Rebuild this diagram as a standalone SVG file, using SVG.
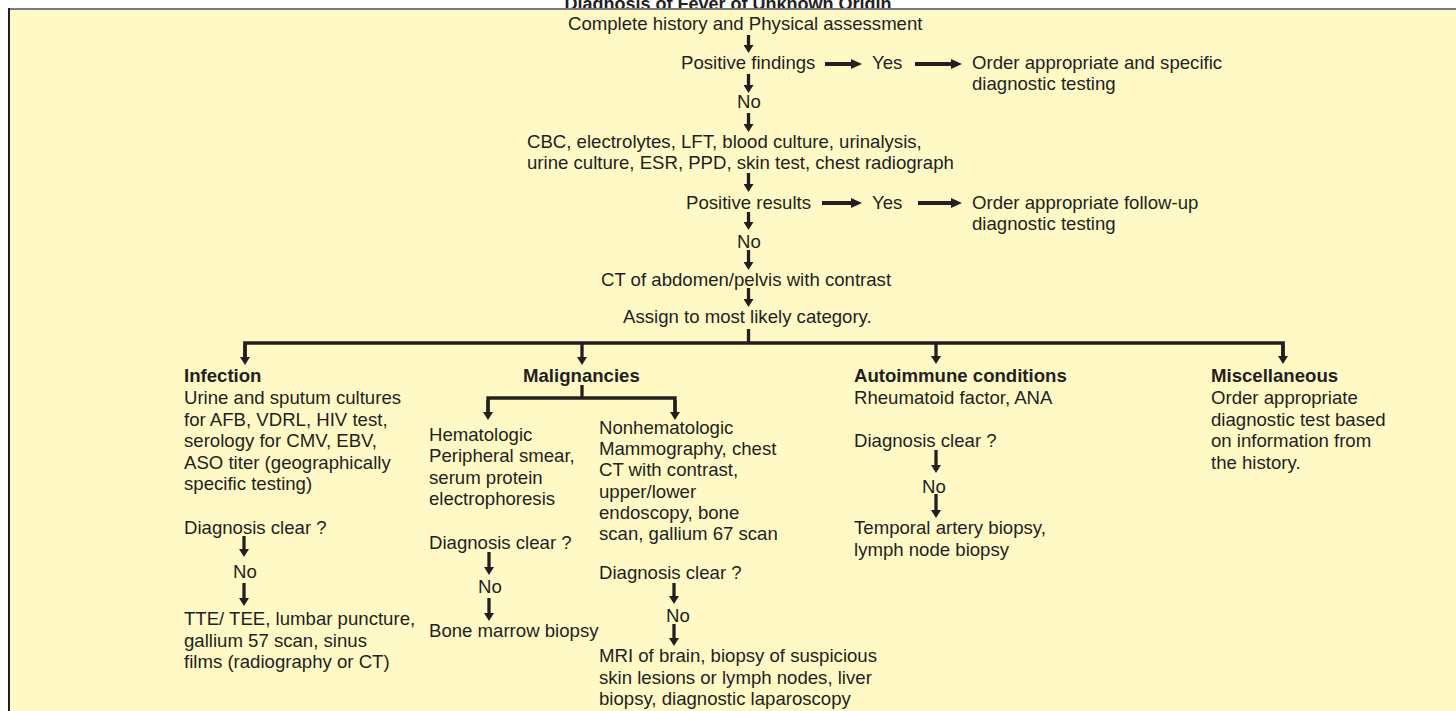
<svg xmlns="http://www.w3.org/2000/svg" width="1456" height="711" viewBox="0 0 1456 711">
<defs>
<style>
text{font-family:"Liberation Sans",Arial,sans-serif;font-size:18.6px;fill:#231F20}
.b{font-weight:bold}
.ln{stroke:#231F20;stroke-width:3.3;fill:none}
.hl{stroke:#231F20;stroke-width:3.6;fill:none}
.ar{stroke:#231F20;stroke-width:3.3;fill:none;marker-end:url(#ah)}
.har{stroke:#231F20;stroke-width:4;fill:none;marker-end:url(#hh)}
</style>
<marker id="ah" markerUnits="userSpaceOnUse" viewBox="0 0 8 10" refX="3" refY="5" markerWidth="8" markerHeight="10" orient="auto">
<path d="M0,0 L8,5 L0,10 Z" fill="#231F20"/>
</marker>
<marker id="hh" markerUnits="userSpaceOnUse" viewBox="0 0 11 10" refX="5" refY="5" markerWidth="11" markerHeight="10" orient="auto">
<path d="M0,0 L11,5 L0,10 Z" fill="#231F20"/>
</marker>
</defs>
<rect x="0" y="0" width="1456" height="711" fill="#ffffff"/>
<text id="title" class="b" x="728" y="10" text-anchor="middle" style="font-size:18px">Diagnosis of Fever of Unknown Origin</text>
<rect x="9" y="9" width="1460" height="710" fill="#FFFAC5"/>
<line x1="8" y1="9" x2="1456" y2="9" stroke="#7a7a7a" stroke-width="2"/>
<line x1="9" y1="8" x2="9" y2="711" stroke="#231F20" stroke-width="2"/>

<g id="connectors">
<line class="ar" x1="748.5" y1="35" x2="748.5" y2="48"/>
<line class="har" x1="825" y1="64" x2="856" y2="64"/>
<line class="har" x1="915" y1="64" x2="956" y2="64"/>
<line class="ar" x1="748.5" y1="74" x2="748.5" y2="88"/>
<line class="ar" x1="748.5" y1="113" x2="748.5" y2="127"/>
<line class="ar" x1="748.5" y1="173" x2="748.5" y2="187"/>
<line class="har" x1="822" y1="203" x2="856" y2="203"/>
<line class="har" x1="918" y1="203" x2="956" y2="203"/>
<line class="ar" x1="748.5" y1="212" x2="748.5" y2="225"/>
<line class="ar" x1="748.5" y1="250" x2="748.5" y2="265"/>
<line class="ar" x1="748.5" y1="288" x2="748.5" y2="302"/>
<line class="ln" x1="748.5" y1="329" x2="748.5" y2="343"/>
<polyline class="hl" points="245,360 245,343 1283,343 1283,360" style="marker-end:none"/>
<line class="ar" x1="245" y1="345" x2="245" y2="360"/>
<line class="ar" x1="582" y1="343" x2="582" y2="360"/>
<line class="ar" x1="936" y1="343" x2="936" y2="359"/>
<line class="ar" x1="1283" y1="345" x2="1283" y2="359"/>
<line class="ln" x1="582" y1="385" x2="582" y2="398"/>
<polyline class="ln" points="488,415 488,398 675,398 675,415"/>
<line class="ar" x1="488" y1="400" x2="488" y2="415"/>
<line class="ar" x1="675" y1="400" x2="675" y2="415"/>
<line class="ar" x1="244" y1="536" x2="244" y2="552"/>
<line class="ar" x1="244" y1="583" x2="244" y2="601"/>
<line class="ar" x1="489" y1="552" x2="489" y2="570"/>
<line class="ar" x1="489" y1="598" x2="489" y2="616"/>
<line class="ar" x1="674" y1="583" x2="674" y2="599"/>
<line class="ar" x1="674" y1="624" x2="674" y2="641"/>
<line class="ar" x1="936" y1="450" x2="936" y2="468"/>
<line class="ar" x1="936" y1="494" x2="936" y2="513"/>
</g>

<g id="n-history"><text x="568" y="30">Complete history and Physical assessment</text></g>
<g id="n-posfind"><text x="681" y="69">Positive findings</text></g>
<g id="n-yes1"><text x="872" y="69">Yes</text></g>
<g id="n-order1"><text x="972" y="69">Order appropriate and specific</text><text x="972" y="90">diagnostic testing</text></g>
<g id="n-no1"><text x="737" y="108">No</text></g>
<g id="n-labs"><text x="527" y="148">CBC, electrolytes, LFT, blood culture, urinalysis,</text><text x="527" y="169">urine culture, ESR, PPD, skin test, chest radiograph</text></g>
<g id="n-posres"><text x="686" y="209">Positive results</text></g>
<g id="n-yes2"><text x="872" y="209">Yes</text></g>
<g id="n-order2"><text x="972" y="209">Order appropriate follow-up</text><text x="972" y="230">diagnostic testing</text></g>
<g id="n-no2"><text x="737" y="248">No</text></g>
<g id="n-ct"><text x="601" y="286">CT of abdomen/pelvis with contrast</text></g>
<g id="n-assign"><text x="623" y="323">Assign to most likely category.</text></g>

<g id="n-infection">
<text class="b" x="184" y="382">Infection</text>
<text x="184" y="404">Urine and sputum cultures</text>
<text x="184" y="425.6">for AFB, VDRL, HIV test,</text>
<text x="184" y="447.2">serology for CMV, EBV,</text>
<text x="184" y="468.8">ASO titer (geographically</text>
<text x="184" y="490.4">specific testing)</text>
</g>
<g id="n-inf-diag"><text x="184" y="534">Diagnosis clear ?</text></g>
<g id="n-inf-no"><text x="233" y="578">No</text></g>
<g id="n-inf-next"><text x="184" y="625">TTE/ TEE, lumbar puncture,</text><text x="184" y="646.5">gallium 57 scan, sinus</text><text x="184" y="668">films (radiography or CT)</text></g>

<g id="n-malig"><text class="b" x="523" y="382">Malignancies</text></g>
<g id="n-hemat">
<text x="429" y="440.7">Hematologic</text>
<text x="429" y="462.2">Peripheral smear,</text>
<text x="429" y="483.7">serum protein</text>
<text x="429" y="505.2">electrophoresis</text>
</g>
<g id="n-hem-diag"><text x="429" y="549">Diagnosis clear ?</text></g>
<g id="n-hem-no"><text x="478" y="593">No</text></g>
<g id="n-hem-next"><text x="429" y="637">Bone marrow biopsy</text></g>

<g id="n-nonhem">
<text x="599" y="434">Nonhematologic</text>
<text x="599" y="455.2">Mammography, chest</text>
<text x="599" y="476.4">CT with contrast,</text>
<text x="599" y="497.6">upper/lower</text>
<text x="599" y="518.8">endoscopy, bone</text>
<text x="599" y="540">scan, gallium 67 scan</text>
</g>
<g id="n-non-diag"><text x="599" y="579">Diagnosis clear ?</text></g>
<g id="n-non-no"><text x="666" y="622">No</text></g>
<g id="n-non-next"><text x="599" y="662">MRI of brain, biopsy of suspicious</text><text x="599" y="683.5">skin lesions or lymph nodes, liver</text><text x="599" y="705">biopsy, diagnostic laparoscopy</text></g>

<g id="n-auto">
<text class="b" x="854" y="382">Autoimmune conditions</text>
<text x="854" y="404">Rheumatoid factor, ANA</text>
</g>
<g id="n-auto-diag"><text x="854" y="447">Diagnosis clear ?</text></g>
<g id="n-auto-no"><text x="922" y="493">No</text></g>
<g id="n-auto-next"><text x="854" y="534">Temporal artery biopsy,</text><text x="854" y="555.5">lymph node biopsy</text></g>

<g id="n-misc">
<text class="b" x="1211" y="382">Miscellaneous</text>
<text x="1211" y="404">Order appropriate</text>
<text x="1211" y="425.5">diagnostic test based</text>
<text x="1211" y="447">on information from</text>
<text x="1211" y="468.5">the history.</text>
</g>
</svg>
